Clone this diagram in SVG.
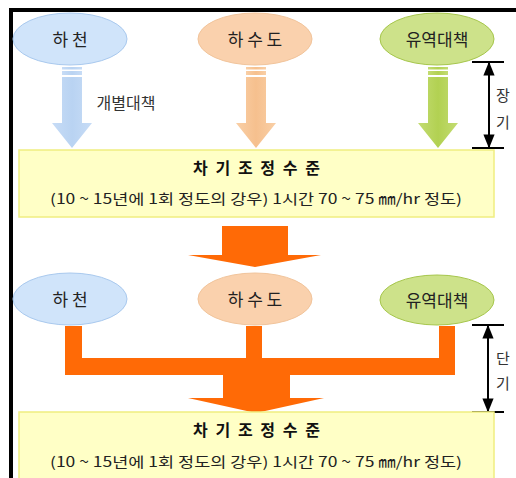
<svg xmlns="http://www.w3.org/2000/svg" width="516" height="478" viewBox="0 0 516 478">
<defs>
<linearGradient id="gb" x1="0" y1="0" x2="1" y2="0"><stop offset="0" stop-color="#c7dcf6"/><stop offset="0.5" stop-color="#b9d3f2"/><stop offset="1" stop-color="#c7dcf6"/></linearGradient>
<linearGradient id="go" x1="0" y1="0" x2="1" y2="0"><stop offset="0" stop-color="#f9cfa6"/><stop offset="0.5" stop-color="#f6c08e"/><stop offset="1" stop-color="#f9cfa6"/></linearGradient>
<linearGradient id="gg" x1="0" y1="0" x2="1" y2="0"><stop offset="0" stop-color="#c3dc72"/><stop offset="0.5" stop-color="#b2d152"/><stop offset="1" stop-color="#c3dc72"/></linearGradient>
<marker id="ah" viewBox="0 0 10 10" refX="9" refY="5" markerWidth="7" markerHeight="7" orient="auto-start-reverse"><path d="M0,1 L10,5 L0,9 z" fill="#000"/></marker>
</defs>
<style>
.lbl{font-family:"Noto Sans CJK KR","Liberation Sans",sans-serif;font-size:17px;fill:#222;text-anchor:middle}
.side{font-family:"Noto Sans CJK KR","Liberation Sans",sans-serif;font-size:15px;fill:#333;text-anchor:middle}
.title{font-family:"Noto Sans CJK KR","Liberation Sans",sans-serif;font-size:16px;font-weight:bold;fill:#111}
.sub{font-family:"Noto Sans CJK KR","Liberation Sans",sans-serif;font-size:14px;fill:#222}
.eb{fill:#d0e4fa;stroke:#a9c9ee;stroke-width:1}
.eo{fill:#fad1ad;stroke:#f1c49b;stroke-width:1}
.eg{fill:#cde28a;stroke:#a6c64c;stroke-width:1}
.box{fill:#ffffc6;stroke:#f0ee80;stroke-width:1.5}
.big{fill:#ff6a06}
.br{stroke:#000;stroke-width:2;fill:none}
</style>
<rect width="516" height="478" fill="#fff"/>
<path d="M11,478 V10 H516" fill="none" stroke="#000" stroke-width="4"/>

<g id="connectors">
<g id="arrow-blue" fill="url(#gb)">
<rect x="62" y="67" width="20" height="2.5"/><rect x="62" y="71" width="20" height="4"/>
<path d="M62,77 H82 V123 H92 L72,148 L52,123 H62 Z"/>
</g>
<g id="arrow-orange" fill="url(#go)">
<rect x="246" y="67" width="20" height="2.5"/><rect x="246" y="71" width="20" height="4"/>
<path d="M246,77 H266 V123 H276 L256,148 L236,123 H246 Z"/>
</g>
<g id="arrow-green" fill="url(#gg)">
<rect x="428" y="67" width="20" height="2.5"/><rect x="428" y="71" width="20" height="4"/>
<path d="M428,77 H448 V123 H458 L438,148 L418,123 H428 Z"/>
</g>
<text class="side" x="126" y="109" style="font-size:16px">개별대책</text>
<path id="big-arrow-1" class="big" d="M222,226 H288 V255 H321 L255,267 L188,255 H222 Z"/>
<path id="merge-arrow" class="big" d="M65,326 H82 V358 H246 V326 H262 V358 H439 V326 H455 V375 H290 V398 H324 L256,413 L188,398 H223 V375 H65 Z"/>
<g id="bracket-long">
<line class="br" x1="472" y1="62" x2="504" y2="62"/><line class="br" x1="472" y1="148" x2="504" y2="148"/>
<line class="br" x1="489" y1="63" x2="489" y2="147" marker-start="url(#ah)" marker-end="url(#ah)"/>
<text class="side" x="503" y="101">장</text><text class="side" x="503" y="128">기</text>
</g>
<g id="bracket-short">
<line class="br" x1="472" y1="325" x2="504" y2="325"/><line class="br" x1="472" y1="412" x2="504" y2="412"/>
<line class="br" x1="488" y1="326" x2="488" y2="411" marker-start="url(#ah)" marker-end="url(#ah)"/>
<text class="side" x="503" y="364">단</text><text class="side" x="503" y="389">기</text>
</g>
</g>

<g id="n-river1"><ellipse class="eb" cx="70" cy="39" rx="57" ry="26"/><text class="lbl" x="70" y="46">하 천</text></g>
<g id="n-sewer1"><ellipse class="eo" cx="255" cy="39" rx="57" ry="26"/><text class="lbl" x="255" y="46">하 수 도</text></g>
<g id="n-basin1"><ellipse class="eg" cx="437" cy="39" rx="57" ry="26"/><text class="lbl" x="437" y="46">유역대책</text></g>

<g id="n-level1"><rect class="box" x="19" y="150" width="475" height="67"/>
<text class="title" x="193" y="174" textLength="127" lengthAdjust="spacing">차 기 조 정 수 준</text>
<text class="sub" x="50" y="204" textLength="412" lengthAdjust="spacingAndGlyphs">(10 ~ 15년에 1회 정도의 강우) 1시간 70 ~ 75 ㎜/hr 정도)</text></g>

<g id="n-river2"><ellipse class="eb" cx="70" cy="299" rx="57" ry="26"/><text class="lbl" x="70" y="306">하 천</text></g>
<g id="n-sewer2"><ellipse class="eo" cx="255" cy="299" rx="57" ry="26"/><text class="lbl" x="255" y="306">하 수 도</text></g>
<g id="n-basin2"><ellipse class="eg" cx="437" cy="300" rx="57" ry="25"/><text class="lbl" x="437" y="307">유역대책</text></g>

<g id="n-level2"><rect class="box" x="19" y="412" width="475" height="70"/>
<text class="title" x="193" y="436" textLength="127" lengthAdjust="spacing">차 기 조 정 수 준</text>
<text class="sub" x="50" y="467" textLength="412" lengthAdjust="spacingAndGlyphs">(10 ~ 15년에 1회 정도의 강우) 1시간 70 ~ 75 ㎜/hr 정도)</text></g>
</svg>
